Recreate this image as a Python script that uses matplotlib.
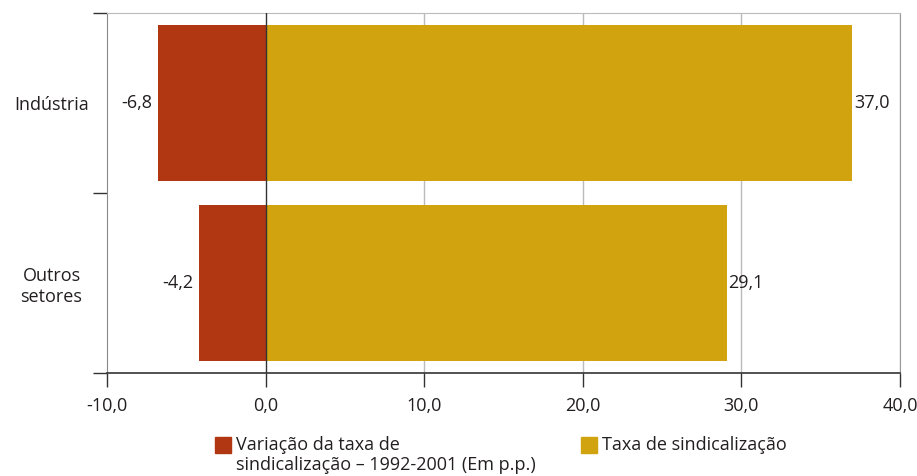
import matplotlib.pyplot as plt
from matplotlib.patches import Rectangle
from matplotlib.ticker import FixedLocator, FuncFormatter

plt.rcParams['font.family'] = ['Open Sans', 'DejaVu Sans']

setores = ['Indústria', 'Outros\nsetores']
variacao = [-6.8, -4.2]
taxa = [37.0, 29.1]
xticks = [-10, 0, 10, 20, 30, 40]
nome_var = 'Variação da taxa de\nsindicalização – 1992-2001 (Em p.p.)'
nome_taxa = 'Taxa de sindicalização'

vermelho = '#B13713'
dourado = '#D1A40F'
texto = '#231F20'
fs = 13


def br(v, pos=None):
    return f'{v:.1f}'.replace('.', ',')


fig = plt.figure(figsize=(9.17, 4.76), dpi=100)
ax = fig.add_axes([0.1167, 0.2164, 0.8648, 0.7563])

ypos = [1, 0]
ax.barh(ypos, variacao, height=0.87, color=vermelho, zorder=2)
ax.barh(ypos, taxa, height=0.87, color=dourado, zorder=2)

for y, v in zip(ypos, variacao):
    ax.annotate(br(v), (v, y), xytext=(-4, 0), textcoords='offset points',
                ha='right', va='center', fontsize=fs, color=texto)
for y, v in zip(ypos, taxa):
    ax.annotate(br(v), (v, y), xytext=(1, 0), textcoords='offset points',
                ha='left', va='center', fontsize=fs, color=texto)

ax.set_xlim(-10, 40)
ax.set_ylim(-0.5, 1.5)
ax.set_xticks(xticks)
ax.xaxis.set_major_formatter(FuncFormatter(br))
ax.tick_params(axis='x', length=10, width=1, color='#333333', pad=7,
               labelsize=fs, labelcolor=texto)

ax.set_yticks(ypos)
ax.set_yticklabels(setores, ha='center', multialignment='center')
ax.yaxis.set_minor_locator(FixedLocator([-0.5, 0.5, 1.5]))
ax.tick_params(axis='y', which='major', length=0, pad=40, labelsize=fs, labelcolor=texto)
ax.tick_params(axis='y', which='minor', length=10, width=1, color='#333333')

for x in xticks[2:]:
    ax.axvline(x, color='#BBBBBB', linewidth=1, zorder=1)
ax.axvline(0, color='#333333', linewidth=1, zorder=3)

ax.spines['left'].set_color('#888888')
ax.spines['top'].set_color('#BBBBBB')
ax.spines['right'].set_color('#999999')
ax.spines['bottom'].set_color('#333333')
ax.spines['bottom'].set_linewidth(1.2)

# legenda desenhada à mão: quadrado alinhado com a primeira linha do texto
W, H = fig.get_size_inches() * fig.dpi
for x0, cor, nome in [(215, vermelho, nome_var), (581, dourado, nome_taxa)]:
    fig.patches.append(Rectangle((x0 / W, 1 - 453 / H), 16 / W, 16 / H,
                                 transform=fig.transFigure, color=cor))
    fig.text((x0 + 21) / W, 1 - 436 / H, nome, ha='left', va='top',
             fontsize=fs, color=texto, linespacing=1.15)

fig.savefig('out.png', dpi=100)
